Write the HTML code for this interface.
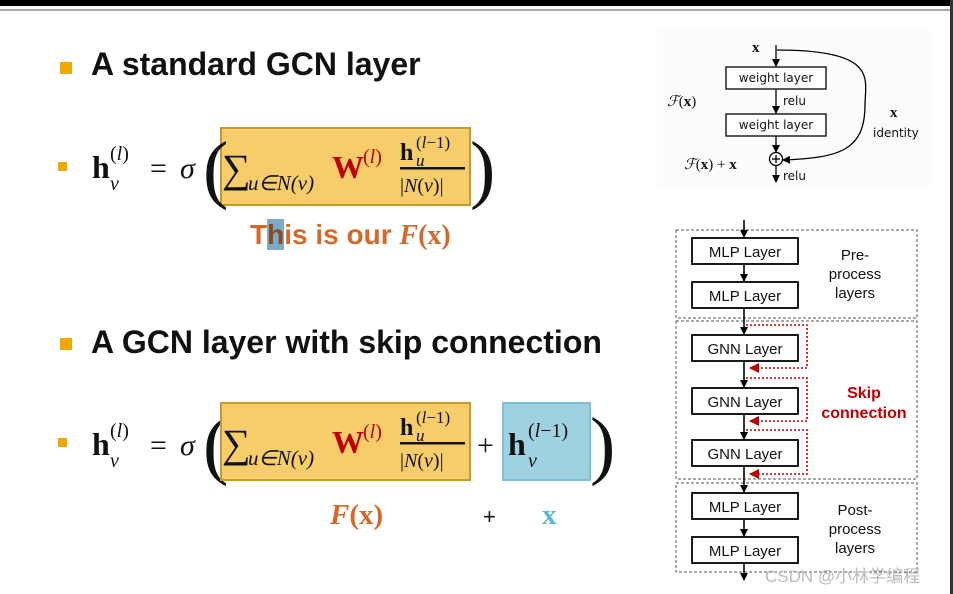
<!DOCTYPE html>
<html><head><meta charset="utf-8"><style>
body{margin:0;width:953px;height:594px;position:relative;background:#fff;overflow:hidden;font-family:"Liberation Sans",sans-serif}
.a{position:absolute;white-space:nowrap}
.t{font-family:"Liberation Sans",sans-serif;font-weight:bold;font-size:32px;color:#111}
.sq{position:absolute;background:#f0a800}
.box{position:absolute;border:2px solid #c79a2a;background:#f6cd6a;box-sizing:border-box}
.or{color:#d4692a;font-family:"Liberation Serif",serif;font-weight:bold}
</style></head><body>
<div class="a" style="left:0;top:0;width:953px;height:6px;background:#000"></div>
<div class="a" style="left:0;top:9px;width:951px;height:2px;background:#aaa"></div>
<div class="a" style="left:950px;top:0;width:3px;height:594px;background:#333"></div>

<div class="sq" style="left:60px;top:62px;width:12px;height:12px"></div>
<div class="a t" style="left:91px;top:46px">A standard GCN layer</div>
<div class="sq" style="left:58px;top:162px;width:9px;height:9px"></div>

<div class="box" style="left:220px;top:127px;width:251px;height:79px"></div>
<svg class="a" style="left:0;top:0" width="953" height="594">
<g font-family="Liberation Serif,serif" fill="#111">
 <text x="92" y="178" font-size="32" font-weight="bold">h</text>
 <text x="110" y="190" font-size="20" font-style="italic">v</text>
 <text x="110" y="160" font-size="20">(<tspan font-style="italic">l</tspan>)</text>
 <text x="150" y="178" font-size="30">=</text>
 <text x="180" y="178" font-size="30" font-style="italic">σ</text>
 <text x="203" y="194" font-size="76">(</text>
 <text x="222" y="182" font-size="40">∑</text>
 <text x="248" y="190" font-size="21" font-style="italic">u∈N(v)</text>
 <text x="332" y="178" font-size="32" font-weight="bold" fill="#c00000">W</text>
 <text x="363" y="163" font-size="20" fill="#c00000">(<tspan font-style="italic">l</tspan>)</text>
 <text x="400" y="160" font-size="24" font-weight="bold">h</text>
 <text x="416" y="148" font-size="17">(<tspan font-style="italic">l</tspan>−1)</text>
 <text x="416" y="166" font-size="17" font-style="italic">u</text>
 <rect x="400" y="167" width="65" height="2.5"/>
 <text x="400" y="192" font-size="20">|<tspan font-style="italic">N</tspan>(<tspan font-style="italic">v</tspan>)|</text>
 <text x="470" y="194" font-size="76">)</text>

 <text x="92" y="455" font-size="32" font-weight="bold">h</text>
 <text x="110" y="467" font-size="20" font-style="italic">v</text>
 <text x="110" y="437" font-size="20">(<tspan font-style="italic">l</tspan>)</text>
 <text x="150" y="455" font-size="30">=</text>
 <text x="180" y="455" font-size="30" font-style="italic">σ</text>
 <text x="203" y="470" font-size="76">(</text>
</g>
</svg>
<div class="box" style="left:220px;top:402px;width:251px;height:79px"></div>
<div class="a" style="left:502px;top:402px;width:89px;height:79px;background:#9fd2e0;border:2px solid #7fc0d8;box-sizing:border-box"></div>
<svg class="a" style="left:0;top:0" width="953" height="594">
<g font-family="Liberation Serif,serif" fill="#111">
 <text x="222" y="457" font-size="40">∑</text>
 <text x="248" y="465" font-size="21" font-style="italic">u∈N(v)</text>
 <text x="332" y="453" font-size="32" font-weight="bold" fill="#c00000">W</text>
 <text x="363" y="438" font-size="20" fill="#c00000">(<tspan font-style="italic">l</tspan>)</text>
 <text x="400" y="435" font-size="24" font-weight="bold">h</text>
 <text x="416" y="423" font-size="17">(<tspan font-style="italic">l</tspan>−1)</text>
 <text x="416" y="441" font-size="17" font-style="italic">u</text>
 <rect x="400" y="442" width="65" height="2.5"/>
 <text x="400" y="467" font-size="20">|<tspan font-style="italic">N</tspan>(<tspan font-style="italic">v</tspan>)|</text>
 <text x="477" y="455" font-size="30">+</text>
 <text x="508" y="455" font-size="32" font-weight="bold">h</text>
 <text x="528" y="467" font-size="20" font-style="italic">v</text>
 <text x="528" y="437" font-size="20">(<tspan font-style="italic">l</tspan>−1)</text>
 <text x="590" y="470" font-size="76">)</text>
</g>
</svg>

<div class="a" style="left:250px;top:219px;font-size:28px;font-weight:bold;color:#d4692a;font-family:'Liberation Sans',sans-serif">T<span style="background:#7fa9c9;color:#8a4a20">h</span>is is our <span class="or" style="font-style:italic">F</span><span class="or">(x)</span></div>

<div class="sq" style="left:60px;top:338px;width:12px;height:12px"></div>
<div class="a t" style="left:91px;top:324px">A GCN layer with skip connection</div>
<div class="sq" style="left:58px;top:438px;width:9px;height:9px"></div>

<div class="a or" style="left:330px;top:499px;font-size:29px"><i>F</i>(x)</div>
<div class="a" style="left:483px;top:504px;font-size:22px;color:#111">+</div>
<div class="a" style="left:542px;top:499px;font-size:29px;font-weight:bold;color:#5bb8d4;font-family:'Liberation Serif',serif">x</div>

<svg class="a" style="left:0;top:0" width="953" height="594">
<defs>
<marker id="ar" markerWidth="8" markerHeight="8" refX="7" refY="4" orient="auto" markerUnits="userSpaceOnUse"><path d="M0,0 L8,4 L0,8z" fill="#000"/></marker>
<marker id="rr" markerWidth="10" markerHeight="10" refX="9" refY="5" orient="auto" markerUnits="userSpaceOnUse"><path d="M0,0 L10,5 L0,10z" fill="#c00000"/></marker>
</defs>
<rect x="657" y="30" width="274" height="156" fill="#fcfcfc"/>
<g stroke="#000" stroke-width="1.3" fill="none">
<line x1="776" y1="45" x2="776" y2="66" marker-end="url(#ar)"/>
<rect x="726" y="67" width="100" height="22" fill="#fff"/>
<line x1="776" y1="89" x2="776" y2="113" marker-end="url(#ar)"/>
<rect x="726" y="114" width="100" height="22" fill="#fff"/>
<line x1="776" y1="136" x2="776" y2="152" marker-end="url(#ar)"/>
<circle cx="776" cy="159" r="6.5"/>
<line x1="772" y1="159" x2="780" y2="159"/><line x1="776" y1="155" x2="776" y2="163"/>
<line x1="776" y1="166" x2="776" y2="182" marker-end="url(#ar)"/>
<path d="M777,50 C880,50 865,80 865,105 C865,150 840,158 783,160" marker-end="url(#ar)"/>
</g>
<g font-family="DejaVu Sans,sans-serif" font-size="12" fill="#111">
<text x="776" y="82" text-anchor="middle">weight layer</text>
<text x="776" y="129" text-anchor="middle">weight layer</text>
<text x="783" y="105">relu</text><text x="783" y="180">relu</text>
<text x="873" y="137">identity</text>
</g>
<g font-family="Liberation Serif,serif" font-size="15" fill="#111">
<text x="752" y="52" font-weight="bold">x</text>
<text x="890" y="117" font-weight="bold">x</text>
<text x="667" y="106" font-style="italic">ℱ<tspan font-style="normal">(<tspan font-weight="bold">x</tspan>)</tspan></text>
<text x="684" y="169" font-style="italic">ℱ<tspan font-style="normal">(<tspan font-weight="bold">x</tspan>) + <tspan font-weight="bold">x</tspan></tspan></text>
</g>

<g stroke="#555" stroke-width="1" stroke-dasharray="3,2" fill="none">
<rect x="676" y="230" width="241" height="88"/>
<rect x="676" y="321" width="241" height="158"/>
<rect x="676" y="483" width="241" height="89"/>
</g>
<g stroke="#000" stroke-width="1.6" fill="none">
<line x1="744" y1="220" x2="744" y2="237" marker-end="url(#ar)"/>
<line x1="744" y1="264" x2="744" y2="281" marker-end="url(#ar)"/>
<line x1="744" y1="308" x2="744" y2="334" marker-end="url(#ar)"/>
<line x1="744" y1="361" x2="744" y2="387" marker-end="url(#ar)"/>
<line x1="744" y1="414" x2="744" y2="439" marker-end="url(#ar)"/>
<line x1="744" y1="466" x2="744" y2="492" marker-end="url(#ar)"/>
<line x1="744" y1="519" x2="744" y2="536" marker-end="url(#ar)"/>
<line x1="744" y1="563" x2="744" y2="580" marker-end="url(#ar)"/>
<g fill="#fff" stroke-width="1.8">
<rect x="692" y="238" width="106" height="26"/>
<rect x="692" y="282" width="106" height="26"/>
<rect x="692" y="335" width="106" height="26"/>
<rect x="692" y="388" width="106" height="26"/>
<rect x="692" y="440" width="106" height="26"/>
<rect x="692" y="493" width="106" height="26"/>
<rect x="692" y="537" width="106" height="26"/>
</g>
</g>
<g stroke="#c00000" stroke-width="1.6" stroke-dasharray="2,2" fill="none">
<path d="M746,325 H807 V368 H750" marker-end="url(#rr)"/>
<path d="M746,378 H807 V421 H750" marker-end="url(#rr)"/>
<path d="M746,430 H807 V474 H750" marker-end="url(#rr)"/>
</g>
<g font-family="Liberation Sans,sans-serif" font-size="15" fill="#111" text-anchor="middle">
<text x="745" y="257">MLP Layer</text><text x="745" y="301">MLP Layer</text>
<text x="745" y="354">GNN Layer</text><text x="745" y="407">GNN Layer</text>
<text x="745" y="459">GNN Layer</text>
<text x="745" y="512">MLP Layer</text><text x="745" y="556">MLP Layer</text>
<text x="855" y="260">Pre-</text><text x="855" y="279">process</text><text x="855" y="298">layers</text>
<text x="855" y="515">Post-</text><text x="855" y="534">process</text><text x="855" y="553">layers</text>
<text x="864" y="398" fill="#c00000" font-weight="bold" font-size="16">Skip</text>
<text x="864" y="418" fill="#c00000" font-weight="bold" font-size="16">connection</text>
</g>
<text x="765" y="582" font-family="Liberation Sans,Noto Sans CJK SC,sans-serif" font-size="17" fill="#bbb">CSDN @小林学编程</text>
</svg>
</body></html>
